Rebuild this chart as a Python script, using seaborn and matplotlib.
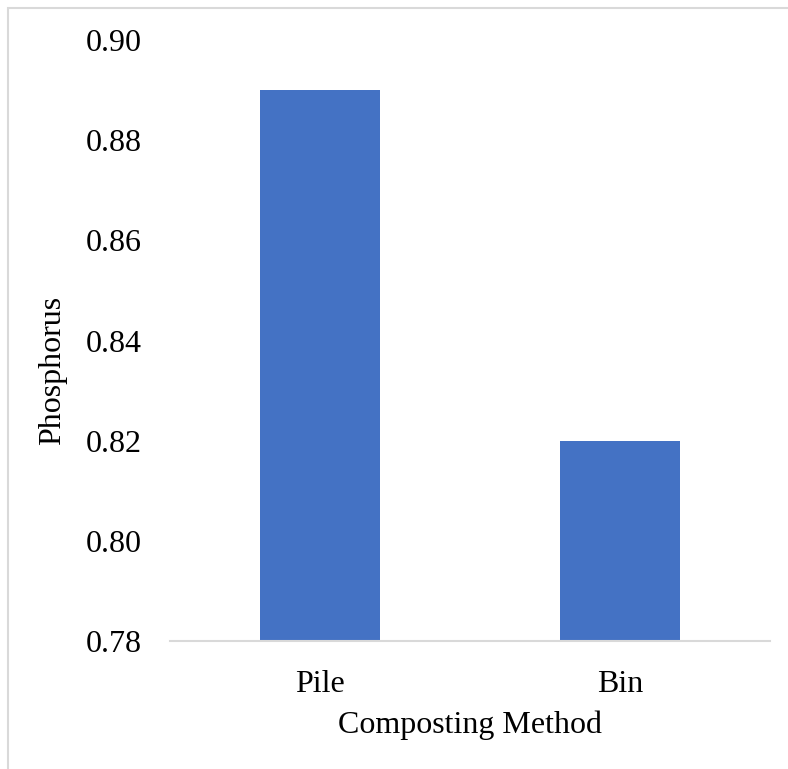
import matplotlib
matplotlib.use("Agg")
import matplotlib.pyplot as plt
import seaborn as sns
import pandas as pd
from matplotlib.patches import Rectangle

# data
methods = ["Pile", "Bin"]
phosphorus = [0.89, 0.82]
y_ticks = [0.78, 0.80, 0.82, 0.84, 0.86, 0.88, 0.90]

sns.set_style("white")
plt.rcParams["font.family"] = ["Liberation Serif", "DejaVu Serif"]

df = pd.DataFrame({"Composting Method": methods, "Phosphorus": phosphorus})

fig = plt.figure(figsize=(7.88, 7.69), dpi=100)
ax = fig.add_axes([170 / 788, 1 - 641 / 769, 600 / 788, 601 / 769])

sns.barplot(data=df, x="Composting Method", y="Phosphorus", color="#4472C4",
            width=0.4, saturation=1, linewidth=0, ax=ax)

ax.set_ylim(0.78, 0.90)
ax.set_xlim(-0.5, 1.5)
ax.set_yticks(y_ticks)
ax.set_yticklabels([f"{t:.2f}" for t in y_ticks])
ax.tick_params(axis="both", length=0, labelsize=23, colors="black")
ax.tick_params(axis="y", pad=20)
ax.tick_params(axis="x", pad=21)
ax.set_xlabel("Composting Method", fontsize=23, labelpad=8, color="black")
ax.set_ylabel("Phosphorus", fontsize=23, labelpad=14, color="black")
# the y title sits a little below the middle of the axis
ax.yaxis.label.set_y(0.451)

for side in ["left", "right", "top"]:
    ax.spines[side].set_visible(False)
ax.spines["bottom"].set_color("#D9D9D9")
ax.spines["bottom"].set_linewidth(1.5)

# chart frame, partly cut off at right and bottom as in the reference
fig.patches.append(Rectangle((8 / 788, -0.1), 1.2, 1 - 8 / 769 + 0.1,
                             transform=fig.transFigure, fill=False,
                             edgecolor="#D9D9D9", linewidth=1.5))

fig.savefig("out.png", dpi=100)
